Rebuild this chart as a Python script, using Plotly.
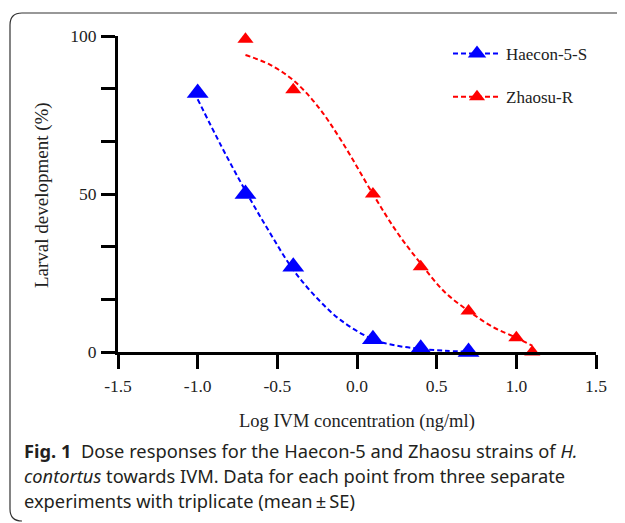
import plotly.graph_objects as go

# ---- data ----
dose_s = [-1.0, -0.7, -0.4, 0.1, 0.4, 0.7]
resp_s = [82, 50, 27, 4, 1, 0]
dose_r = [-0.7, -0.4, 0.1, 0.4, 0.7, 1.0, 1.1]
resp_r = [99, 83, 50, 27, 13, 4.5, 0]

# fitted dose-response curves
fit_s_x = [-1.0, -0.85, -0.7, -0.55, -0.4, -0.25, -0.1, 0.1, 0.25, 0.4, 0.55, 0.7]
fit_s_y = [80, 65, 51, 38, 26, 17, 10, 4, 2, 1, 0.4, 0.1]
fit_r_x = [-0.7, -0.55, -0.4, -0.25, -0.1, 0.1, 0.25, 0.4, 0.55, 0.7, 0.85, 1.0, 1.1]
fit_r_y = [94, 91, 86, 78, 67, 50, 38, 28, 19, 13, 8, 4.5, 2]

names = ["Haecon-5-S", "Zhaosu-R"]
x_ticks = [-1.5, -1.0, -0.5, 0.0, 0.5, 1.0, 1.5]
x_ticktext = ["-1.5", "-1.0", "-0.5", "0.0", "0.5", "1.0", "1.5"]
y_ticks = [0, 50, 100]

BLUE = "#0000ff"
RED = "#ff0000"
SERIF = "Liberation Serif, Times New Roman, serif"
SANS = "Noto Sans, Open Sans, sans-serif"

# the page body adds an 8px offset; the figure is sized to fill the rest of the window
OFF = 8
W, H = 625 - OFF, 523 - OFF
L, T = 118 - OFF, 36 - OFF
PW, PH = 478, 316
R, B = W - L - PW, H - T - PH


def px2paper(x, y):
    """reference-picture pixel -> paper coordinates"""
    return (x - OFF - L) / PW, (T + PH - (y - OFF)) / PH


fig = go.Figure()

DASH = "5px,3px"
# curves
fig.add_trace(go.Scatter(x=fit_s_x, y=fit_s_y, mode="lines", line=dict(color=BLUE, width=2, dash=DASH, shape="spline"),
                         showlegend=False, hoverinfo="skip"))
fig.add_trace(go.Scatter(x=fit_r_x, y=fit_r_y, mode="lines", line=dict(color=RED, width=2, dash=DASH, shape="spline"),
                         showlegend=False, hoverinfo="skip"))
# points
fig.add_trace(go.Scatter(x=dose_s, y=resp_s, mode="markers", marker=dict(symbol="triangle-up", size=19, color=BLUE),
                         showlegend=False, cliponaxis=False))
fig.add_trace(go.Scatter(x=dose_r, y=resp_r, mode="markers", marker=dict(symbol="triangle-up", size=14, color=RED),
                         showlegend=False, cliponaxis=False))
# legend entries
fig.add_trace(go.Scatter(x=[None], y=[None], mode="lines+markers", name=names[0], legendgroup="a",
                         line=dict(color=BLUE, width=2, dash=DASH),
                         marker=dict(symbol="triangle-up", size=19, color=BLUE)))
fig.add_trace(go.Scatter(x=[None], y=[None], mode="lines+markers", name=names[1], legendgroup="b",
                         line=dict(color=RED, width=2, dash=DASH),
                         marker=dict(symbol="triangle-up", size=14, color=RED)))

axis_common = dict(showline=True, linecolor="black", linewidth=3, ticks="outside", ticklen=14,
                   tickwidth=3, tickcolor="black", showgrid=False, zeroline=False,
                   tickfont=dict(family=SERIF, size=17.5, color="#222"))

fig.update_xaxes(range=[-1.5, 1.5], tickvals=x_ticks, ticktext=x_ticktext, ticklabelstandoff=2, **axis_common)
fig.update_yaxes(range=[0, 100], tickvals=y_ticks, ticklabelstandoff=1,
                 minor=dict(tickvals=[50 / 3, 100 / 3, 200 / 3, 250 / 3], ticks="outside", ticklen=14,
                            tickwidth=3, tickcolor="black"),
                 **axis_common)

annotations = []
ax, ay = px2paper(357, 421)
annotations.append(dict(x=ax, y=ay, xref="paper", yref="paper", text="Log IVM concentration (ng/ml)",
                        showarrow=False, font=dict(family=SERIF, size=18.5, color="#222"),
                        xanchor="center", yanchor="middle"))
ax, ay = px2paper(42, 195)
annotations.append(dict(x=ax, y=ay, xref="paper", yref="paper", text="Larval development (%)",
                        showarrow=False, font=dict(family=SERIF, size=19, color="#222"), textangle=-90,
                        xanchor="center", yanchor="middle"))
caption = [
    "<b>Fig. 1</b>  Dose responses for the Haecon-5 and Zhaosu strains of <i>H.</i>",
    "<i>contortus</i> towards IVM. Data for each point from three separate",
    "experiments with triplicate (mean\u2009\u00b1\u2009SE)",
]
for i, line in enumerate(caption):
    ax, ay = px2paper(22, 451 + 24.5 * i)
    annotations.append(dict(x=ax, y=ay, xref="paper", yref="paper", text=line, showarrow=False,
                            font=dict(family=SANS, size=18.3, color="#231f20"), xanchor="left", yanchor="middle"))

# rounded frame around the figure
x0, y0 = px2paper(10, 13)
x1, y1 = px2paper(640, 521)
rx = 12 / PW
ry = 12 / PH
path = (f"M {x0 + rx},{y1} Q {x0},{y1} {x0},{y1 + ry} L {x0},{y0 - ry} "
        f"Q {x0},{y0} {x0 + rx},{y0} L {x1},{y0}")
fig.add_shape(type="path", path=path, xref="paper", yref="paper", line=dict(color="#333", width=1.2))

lx, _ = px2paper(448, 0)
_, ly = px2paper(0, 36)
fig.update_layout(
    width=W, height=H, margin=dict(l=L, r=R, t=T, b=B),
    paper_bgcolor="white", plot_bgcolor="white",
    annotations=annotations,
    legend=dict(x=lx, y=ly, xanchor="left", yanchor="top",
                font=dict(family=SERIF, size=17, color="#222"), bgcolor="rgba(0,0,0,0)",
                traceorder="grouped", tracegroupgap=18, itemwidth=48),
    showlegend=True,
)

fig.write_html("out.html")
